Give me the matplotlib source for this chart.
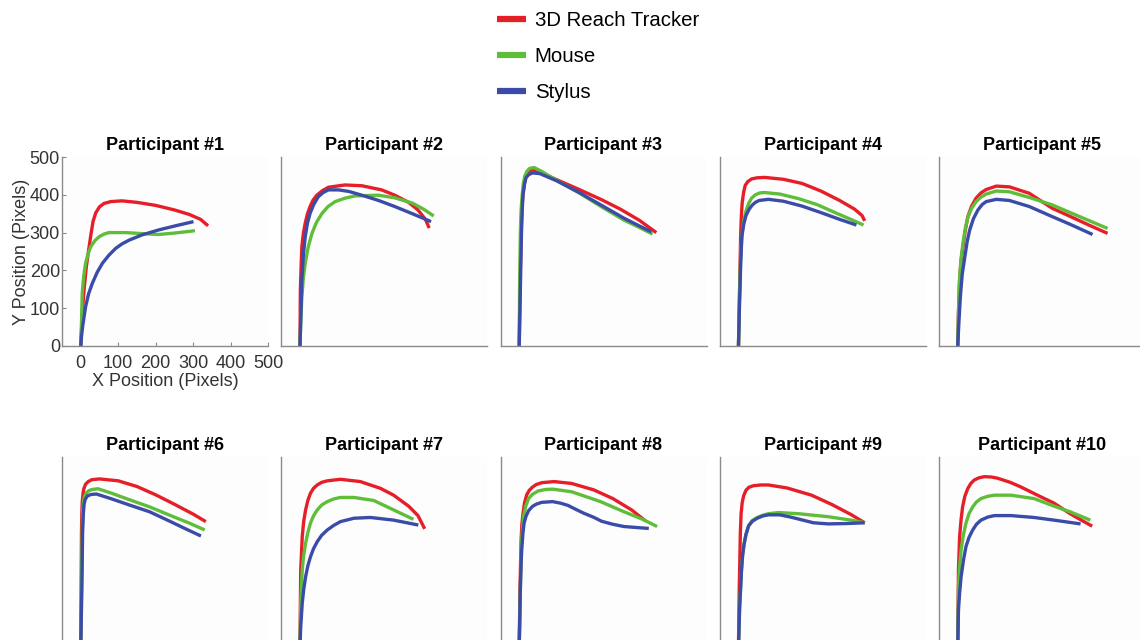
import matplotlib
matplotlib.use("Agg")
import matplotlib.pyplot as plt

plt.rcParams["font.family"] = ["Liberation Sans", "DejaVu Sans"]

# Baner (x, y i piksler) for hver deltaker, lest av figuren
labels = ["3D Reach Tracker", "Mouse", "Stylus"]
colors = ["#e61e28", "#5fbd3a", "#3a4ca8"]

p1_red = [(0, 0), (5, 100), (10, 160), (15, 210), (22, 260), (28, 300), (33, 330), (40, 352),
          (50, 368), (62, 377), (80, 382), (110, 384), (150, 380), (200, 372), (250, 360),
          (290, 348), (320, 335), (340, 318)]
p1_green = [(0, 0), (2, 60), (4, 140), (8, 185), (13, 219), (20, 245), (27, 263), (38, 279),
            (49, 289), (62, 296), (75, 300), (120, 300), (170, 297), (208, 295), (253, 299),
            (305, 305)]
p1_blue = [(0, 0), (2, 25), (5, 51), (13, 104), (21, 138), (31, 166), (44, 195), (58, 219),
           (75, 240), (93, 258), (110, 270), (129, 280), (164, 294), (208, 307), (253, 318),
           (301, 329)]

p2_red = [(0, 0), (1, 148), (3, 210), (5, 263), (9, 298), (14, 325), (20, 350), (27, 369),
          (35, 386), (45, 399), (60, 411), (76, 420), (120, 426), (165, 424), (218, 413),
          (253, 399), (290, 380), (315, 360), (335, 335), (345, 312)]
p2_green = [(0, 0), (2, 60), (5, 130), (9, 180), (14, 219), (22, 262), (32, 298), (44, 327),
            (59, 351), (75, 369), (94, 382), (120, 391), (147, 397), (209, 399), (253, 392),
            (300, 378), (330, 362), (357, 344)]
p2_blue = [(0, 0), (3, 100), (5, 175), (9, 240), (14, 289), (20, 325), (27, 351), (37, 375),
           (49, 395), (62, 406), (76, 413), (103, 413), (130, 409), (165, 399), (210, 385),
           (253, 369), (300, 350), (350, 329)]

p3_red = [(0, 0), (2, 150), (5, 300), (7, 360), (10, 400), (14, 430), (18, 450), (24, 460),
          (30, 465), (40, 465), (50, 462), (100, 440), (160, 414), (220, 387), (270, 362),
          (320, 333), (366, 300)]
p3_green = [(0, 0), (1, 150), (3, 300), (5, 360), (8, 400), (11, 430), (15, 450), (21, 463),
            (28, 470), (40, 472), (60, 462), (100, 438), (160, 405), (220, 368), (280, 333),
            (320, 314), (356, 296)]
p3_blue = [(0, 0), (3, 150), (6, 300), (8, 360), (10, 400), (14, 428), (18, 445), (25, 453),
           (35, 458), (55, 456), (100, 437), (160, 406), (220, 372), (280, 338), (320, 318),
           (353, 302)]

p4_red = [(0, 0), (3, 150), (6, 300), (8, 350), (10, 380), (14, 408), (18, 425), (25, 435),
          (35, 442), (50, 445), (70, 446), (120, 441), (170, 430), (220, 410), (270, 385),
          (310, 362), (330, 345), (337, 331)]
p4_green = [(0, 0), (3, 150), (5, 210), (7, 260), (10, 300), (14, 330), (20, 357), (27, 377),
            (35, 391), (45, 400), (57, 405), (70, 406), (110, 402), (160, 390), (210, 374),
            (260, 352), (300, 335), (334, 320)]
p4_blue = [(0, 0), (2, 80), (4, 150), (6, 220), (9, 290), (14, 322), (20, 345), (28, 361),
           (36, 372), (45, 380), (55, 385), (80, 388), (120, 383), (170, 370), (220, 353),
           (270, 335), (315, 320)]

p5_red = [(0, 0), (2, 90), (5, 175), (9, 225), (14, 263), (20, 305), (27, 342), (37, 370),
          (49, 391), (62, 405), (76, 414), (103, 423), (138, 421), (191, 404), (253, 364),
          (300, 343), (350, 320), (400, 298)]
p5_green = [(0, 0), (2, 90), (5, 183), (9, 232), (14, 272), (20, 310), (27, 340), (37, 364),
            (49, 382), (62, 394), (76, 402), (103, 410), (138, 408), (191, 393), (253, 373),
            (300, 353), (350, 332), (400, 311)]
p5_blue = [(0, 0), (3, 60), (7, 130), (12, 190), (19, 236), (25, 275), (32, 307), (42, 337),
           (54, 360), (65, 374), (76, 382), (103, 388), (138, 385), (191, 369), (253, 342),
           (300, 322), (360, 295)]

p6_red = [(0, 0), (1, 150), (2, 300), (3, 350), (4, 380), (6, 402), (8, 415), (13, 428),
          (20, 435), (30, 440), (50, 442), (100, 437), (150, 422), (200, 400), (250, 375),
          (300, 349), (334, 329)]
p6_green = [(0, 0), (2, 150), (4, 300), (5, 350), (7, 380), (10, 395), (15, 405), (22, 411),
            (30, 414), (46, 416), (80, 405), (130, 387), (184, 368), (240, 345), (290, 325),
            (331, 307)]
p6_blue = [(0, 0), (3, 150), (5, 300), (7, 350), (9, 375), (12, 388), (18, 397), (28, 401),
           (42, 402), (80, 390), (130, 373), (184, 355), (240, 329), (280, 310), (321, 291)]

p7_red = [(0, 0), (1, 100), (2, 201), (6, 289), (10, 330), (15, 360), (21, 385), (28, 404),
          (36, 417), (46, 426), (58, 433), (73, 437), (108, 441), (161, 435), (215, 417),
          (250, 399), (290, 370), (315, 345), (333, 310)]
p7_green = [(0, 0), (1, 60), (2, 113), (6, 201), (10, 240), (15, 272), (21, 300), (28, 325),
            (36, 344), (46, 360), (58, 373), (73, 382), (90, 389), (108, 393), (144, 393),
            (197, 385), (250, 360), (303, 335)]
p7_blue = [(0, 0), (2, 51), (6, 113), (10, 150), (15, 183), (21, 212), (28, 236), (36, 257),
           (46, 276), (58, 293), (73, 307), (90, 319), (108, 329), (144, 338), (188, 340),
           (250, 333), (316, 320)]

p8_red = [(0, 0), (2, 150), (5, 280), (7, 320), (10, 350), (14, 378), (20, 400), (27, 412),
          (35, 420), (45, 427), (60, 432), (93, 435), (140, 430), (199, 413), (250, 390),
          (300, 360), (337, 331)]
p8_green = [(0, 0), (3, 150), (6, 270), (9, 315), (12, 345), (18, 372), (25, 390), (35, 401),
            (50, 410), (70, 414), (89, 415), (140, 408), (217, 382), (280, 355), (330, 335),
            (368, 316)]
p8_blue = [(0, 0), (3, 150), (5, 220), (7, 260), (10, 300), (13, 325), (18, 343), (25, 358),
           (35, 369), (45, 375), (60, 380), (89, 382), (110, 378), (130, 372), (150, 362),
           (173, 351), (200, 340), (220, 330), (250, 322), (280, 316), (346, 311)]

p9_red = [(0, 0), (2, 150), (5, 300), (7, 350), (10, 380), (14, 398), (20, 412), (28, 420),
          (40, 424), (60, 426), (80, 426), (130, 418), (195, 399), (250, 374), (300, 348),
          (337, 326)]
p9_green = [(0, 0), (3, 100), (8, 200), (11, 240), (15, 270), (20, 295), (27, 318), (37, 332),
            (50, 340), (65, 346), (80, 350), (107, 353), (160, 350), (240, 342), (300, 333),
            (337, 326)]
p9_blue = [(0, 0), (3, 100), (8, 200), (11, 240), (15, 270), (20, 295), (27, 318), (37, 330),
           (50, 338), (65, 344), (80, 347), (110, 347), (135, 342), (160, 336), (200, 326),
           (240, 323), (290, 324), (337, 326)]

p10_red = [(0, 0), (1, 100), (2, 201), (5, 289), (9, 335), (13, 368), (19, 396), (27, 417),
           (35, 430), (44, 439), (57, 445), (71, 448), (90, 447), (106, 444), (140, 433),
           (168, 421), (221, 395), (257, 378), (300, 350), (330, 333), (359, 317)]
p10_green = [(0, 0), (1, 80), (2, 157), (5, 210), (9, 254), (15, 293), (22, 325), (30, 350),
             (40, 368), (50, 381), (62, 390), (80, 396), (98, 399), (142, 399), (204, 390),
             (257, 370), (300, 355), (354, 333)]
p10_blue = [(0, 0), (1, 50), (2, 95), (5, 140), (9, 183), (15, 225), (22, 263), (30, 287),
            (40, 307), (50, 322), (62, 333), (80, 341), (98, 345), (142, 345), (204, 340),
            (257, 333), (328, 323)]

participants = [
    (p1_red, p1_green, p1_blue), (p2_red, p2_green, p2_blue), (p3_red, p3_green, p3_blue),
    (p4_red, p4_green, p4_blue), (p5_red, p5_green, p5_blue), (p6_red, p6_green, p6_blue),
    (p7_red, p7_green, p7_blue), (p8_red, p8_green, p8_blue), (p9_red, p9_green, p9_blue),
    (p10_red, p10_green, p10_blue),
]

W, H = 1140, 640
fig = plt.figure(figsize=(W / 100, H / 100), dpi=100)

ax_w, ax_h = 206, 189
lefts = [62 + 219.25 * i for i in range(5)]
tops = [157, 457]
spine_col = "#8a8a8a"

for k, tracks in enumerate(participants):
    row, col = divmod(k, 5)
    left = lefts[col]
    top = tops[row]
    ax = fig.add_axes([left / W, 1 - (top + ax_h) / H, ax_w / W, ax_h / H])
    ax.set_facecolor("#fdfdfd")
    for track, c, lab in zip(tracks, colors, labels):
        xs = [p[0] for p in track]
        ys = [p[1] for p in track]
        ax.plot(xs, ys, color=c, lw=2.4, solid_capstyle="butt", solid_joinstyle="round",
                label=lab if k == 0 else None)
    ax.set_xlim(-50, 500)
    ax.set_ylim(0, 500)
    for s in ["top", "right"]:
        ax.spines[s].set_visible(False)
    for s in ["left", "bottom"]:
        ax.spines[s].set_color(spine_col)
        ax.spines[s].set_linewidth(1.0)
    ax.tick_params(direction="in", length=3, color=spine_col, labelcolor="#333333",
                   labelsize=13)
    ax.tick_params(axis="x", pad=6.5)
    ax.tick_params(axis="y", pad=1.5)
    ax.set_title(f"Participant #{k + 1}", fontsize=13, fontweight="bold", pad=5)
    if k == 0:
        ax.set_xticks([0, 100, 200, 300, 400, 500])
        ax.set_yticks([0, 100, 200, 300, 400, 500])
        ax.set_xlabel("X Position (Pixels)", fontsize=13, color="#333333", labelpad=1)
        ax.set_ylabel("Y Position (Pixels)", fontsize=13, color="#333333", labelpad=0)
    else:
        ax.set_xticks([])
        ax.set_yticks([])

handles, labs = fig.axes[0].get_legend_handles_labels()
leg = fig.legend(handles, labs, loc="upper left", bbox_to_anchor=(479 / W, 1.011), frameon=False,
                 fontsize=14.7, handlelength=1.42, handletextpad=0.4, labelspacing=0.83)
for line in leg.get_lines():
    line.set_linewidth(4.5)

fig.savefig("out.png", dpi=100)
